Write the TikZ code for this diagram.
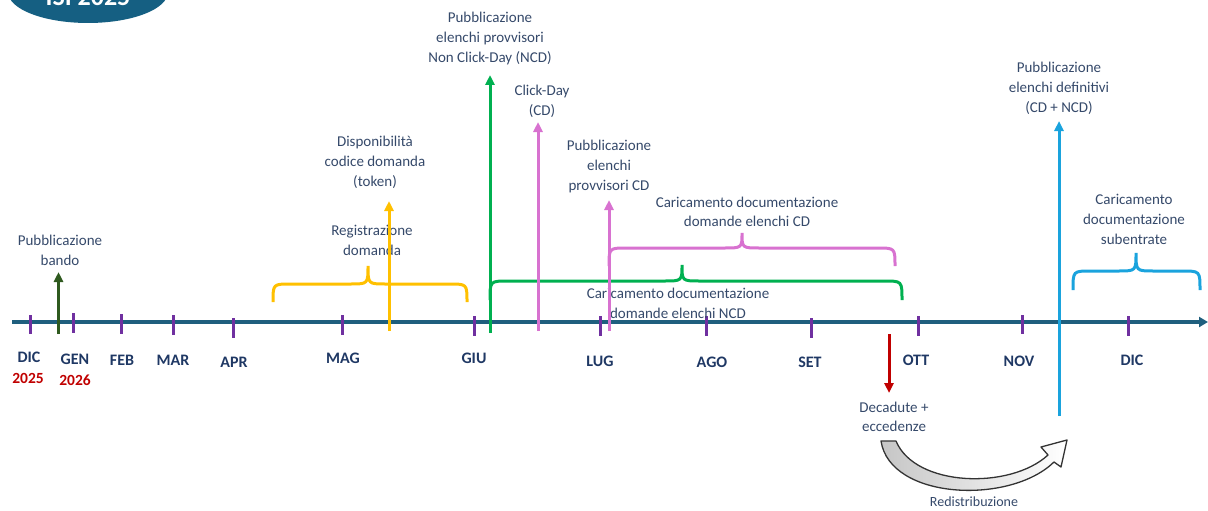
\documentclass[tikz,border=0pt]{standalone}
\usepackage{fontspec}
\setmainfont{Carlito}
\usetikzlibrary{arrows.meta}
\definecolor{lblc}{HTML}{35496A}
\definecolor{navyc}{HTML}{1F3864}
\definecolor{yearc}{HTML}{C00000}
\definecolor{linec}{HTML}{1F5F7E}
\definecolor{tickc}{HTML}{7030A0}
\definecolor{dgreenc}{HTML}{2F5A1F}
\definecolor{yellowc}{HTML}{FFC000}
\definecolor{greenc}{HTML}{00B050}
\definecolor{pinkc}{HTML}{D872D0}
\definecolor{redc}{HTML}{C00000}
\definecolor{bluec}{HTML}{1AA3DD}
\definecolor{isic}{HTML}{155F82}
\newcommand\tlbrace[7]{%
  \draw[bracestyle,#1] (#2,#6) .. controls (#2,#5) and (#2,#5) .. ({#2+18},#5)
    -- ({#3-18},#5) .. controls (#3,#5) and (#3,#5) .. (#3,#7)
    .. controls (#3,#5) and (#3,#5) .. ({#3+18},#5)
    -- ({#4-18},#5) .. controls (#4,#5) and (#4,#5) .. (#4,#6);}
\begin{document}
\begin{tikzpicture}[x=1pt,y=-1pt,
  lbl/.style={text=lblc, font=\fontsize{15}{20}\selectfont, align=center, inner sep=0pt},
  mon/.style={text=navyc, font=\bfseries\fontsize{16}{18}\selectfont, inner sep=0pt},
  yr/.style={text=yearc, font=\bfseries\fontsize{15.5}{18}\selectfont, inner sep=0pt},
  arr/.style={line width=3pt, -{Triangle[length=10pt,width=9pt]}},
  bracestyle/.style={line width=3pt},
  tickmark/.style={draw=tickc, line width=3pt},
  timeline/.style={draw=linec, line width=4pt, -{Triangle[length=9pt,width=10pt]}}]
\useasboundingbox (0,0) rectangle (1208,511);

% title ellipse
\fill[isic] (88,-8) ellipse [x radius=80, y radius=31];
\node[text=white, font=\bfseries\fontsize{26}{28}\selectfont, anchor=base, inner sep=0pt] (isi) at (88,6) {ISI 2025};

% timeline
\coordinate (tl0) at (12,322);
\coordinate (tl1) at (1208,322);
\draw[timeline] (tl0) -- (tl1);

% ticks
\foreach \x/\a/\b in {30/315/334, 73/313/333, 121/314/334, 173/315/335, 233/318/338, 342/315/335, 474/316/336, 600/316/336, 706/316/336, 811/318/338, 918/316/336, 1022/315/334, 1128/316/336}
  \draw[tickmark] (\x,\a) -- (\x,\b);

% month labels
\node[mon] (m1) at (29,357) {DIC};
\node[mon] (m2) at (75,359) {GEN};
\node[mon] (m3) at (122,360) {FEB};
\node[mon] (m4) at (173,360) {MAR};
\node[mon] (m5) at (234,362) {APR};
\node[mon] (m6) at (343,358) {MAG};
\node[mon] (m7) at (474,358) {GIU};
\node[mon] (m8) at (600,361) {LUG};
\node[mon] (m9) at (712,362) {AGO};
\node[mon] (m10) at (810,362) {SET};
\node[mon] (m11) at (916,360) {OTT};
\node[mon] (m12) at (1019,361) {NOV};
\node[mon] (m13) at (1132,360) {DIC};
\node[yr] (y1) at (28,378) {2025};
\node[yr] (y2) at (75,380) {2026};

% braces
\tlbrace{yellowc}{273}{368}{467}{284}{302}{266}
\tlbrace{greenc}{490}{682}{902}{281}{300}{265}
\tlbrace{pinkc}{609}{742}{895}{248}{266}{233}
\tlbrace{bluec}{1073}{1136}{1200}{271}{290}{253}

% labels
\node[lbl] (bando) at (60,250) {Pubblicazione\\bando};
\node[lbl] (token) at (375,162) {Disponibilità\\codice domanda\\(token)};
\node[lbl] (reg) at (372,240) {Registrazione\\domanda};
\node[lbl] (ncd) at (490,39) {Pubblicazione\\elenchi provvisori\\Non Click-Day (NCD)};
\node[lbl] (click) at (542,101) {Click-Day\\(CD)};
\node[lbl] (provcd) at (609,166) {Pubblicazione\\elenchi\\provvisori CD};
\node[lbl, font=\fontsize{15}{18.5}\selectfont] (carcd) at (747,212) {Caricamento documentazione\\domande elenchi CD};
\node[lbl] (carncd) at (678,303) {Caricamento documentazione\\domande elenchi NCD};
\node[lbl, font=\fontsize{15}{18.5}\selectfont] (decad) at (894,417) {Decadute +\\eccedenze};
\node[lbl] (defin) at (1059,88) {Pubblicazione\\elenchi definitivi\\(CD + NCD)};
\node[lbl] (suben) at (1134,219) {Caricamento\\documentazione\\subentrate};

% arrows
\coordinate (a1s) at (58.5,334); \coordinate (a1e) at (58.5,272);
\draw[arr, draw=dgreenc, fill=dgreenc] (a1s) -- (a1e);
\coordinate (a2s) at (389,331); \coordinate (a2e) at (389,201);
\draw[arr, draw=yellowc, fill=yellowc] (a2s) -- (a2e);
\coordinate (a3s) at (490,333); \coordinate (a3e) at (490,75);
\draw[arr, draw=greenc, fill=greenc] (a3s) -- (a3e);
\coordinate (a4s) at (538,331); \coordinate (a4e) at (538,122);
\draw[arr, draw=pinkc, fill=pinkc] (a4s) -- (a4e);
\coordinate (a5s) at (609,331); \coordinate (a5e) at (609,200);
\draw[arr, draw=pinkc, fill=pinkc] (a5s) -- (a5e);
\coordinate (a6s) at (889,334); \coordinate (a6e) at (889,393);
\draw[arr, draw=redc, fill=redc] (a6s) -- (a6e);
\coordinate (a7s) at (1059,416); \coordinate (a7e) at (1059,121);
\draw[arr, draw=bluec, fill=bluec] (a7s) -- (a7e);

% curved redistribution arrow
\path[draw=black!80, line width=1.3pt, line join=round, left color=gray!45, right color=white]
  (881,441) .. controls (890,500) and (1010,505) .. (1054,462)
  -- (1061,467) -- (1067,440) -- (1041,447) -- (1048,455)
  .. controls (1010,490) and (915,487) .. (896,441) -- cycle;
\node[text=lblc, font=\fontsize{14}{16}\selectfont, inner sep=0pt] (redis) at (974,502) {Redistribuzione};
\end{tikzpicture}
\end{document}
